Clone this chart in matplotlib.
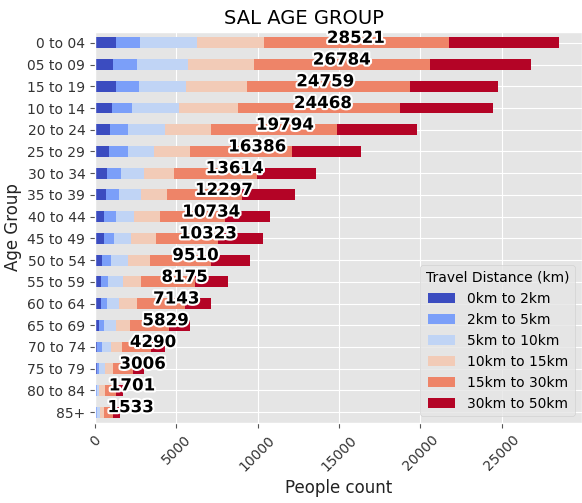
"""
SAL age group by travel distance - stacked horizontal bars
"""

import numpy as np
import matplotlib.pyplot as plt
import matplotlib.patheffects as pe

# data, ordered by total count (largest on top)
age_groups = ["0 to 04", "05 to 09", "15 to 19", "10 to 14", "20 to 24", "25 to 29",
              "30 to 34", "35 to 39", "40 to 44", "45 to 49", "50 to 54", "55 to 59",
              "60 to 64", "65 to 69", "70 to 74", "75 to 79", "80 to 84", "85+"]

bands = ["0km to 2km", "2km to 5km", "5km to 10km",
         "10km to 15km", "15km to 30km", "30km to 50km"]

km_0_2 = [1268, 1084, 1309, 1043, 920, 859, 716, 654, 552, 532, 429, 368,
          348, 266, 143, 102, 41, 41]
km_2_5 = [1493, 1493, 1390, 1206, 1105, 1186, 879, 818, 716, 613, 553, 409,
          368, 286, 266, 164, 102, 61]
km_5_10 = [3537, 3169, 2925, 2925, 2290, 1554, 1432, 1350, 1145, 1043, 1043, 920,
           777, 736, 573, 368, 123, 205]
km_10_15 = [4070, 4009, 3701, 3599, 2802, 2229, 1820, 1595, 1554, 1554, 1329, 1125,
            1084, 859, 654, 491, 348, 245]
km_15_30 = [11412, 10858, 10021, 9959, 7791, 6257, 5112, 4642, 4049, 3824, 3763, 3313,
            2944, 2413, 1779, 1227, 674, 573]
km_30_50 = [6741, 6171, 5413, 5736, 4886, 4301, 3655, 3238, 2718, 2757, 2393, 2040,
            1622, 1269, 875, 654, 413, 408]

series = [km_0_2, km_2_5, km_5_10, km_10_15, km_15_30, km_30_50]

plt.style.use("ggplot")

fig = plt.figure(figsize=(5.82, 5.03), dpi=100)
ax = fig.add_axes([95 / 582, 80 / 503, 487 / 582, 391 / 503])

cmap = plt.get_cmap("coolwarm")
colors = [cmap(i / (len(bands) - 1)) for i in range(len(bands))]

y = np.arange(len(age_groups))
left = np.zeros(len(age_groups))
for vals, name, col in zip(series, bands, colors):
    vals = np.array(vals, dtype=float)
    ax.barh(y, vals, left=left, height=0.5, color=col, label=name, linewidth=0)
    left += vals

totals = left
for i, tot in enumerate(totals):
    ax.text(tot / 2, i, f"{int(tot)}", ha="left", va="baseline",
            fontsize=12, fontweight="bold", color="black",
            path_effects=[pe.withStroke(linewidth=3, foreground="white")])

ax.set_yticks(y)
ax.set_yticklabels(age_groups, fontsize=10, color="#333333")
ax.set_ylim(len(age_groups) - 0.5, -0.5)
ax.set_xlim(0, totals.max() * 1.05)
ax.set_xticks([0, 5000, 10000, 15000, 20000, 25000])
plt.setp(ax.get_xticklabels(), rotation=45, fontsize=10, color="#333333")

ax.set_xlabel("People count", fontsize=12, color="#222222")
ax.set_ylabel("Age Group", fontsize=12, color="#222222")
ax.set_title("SAL AGE GROUP", fontsize=14, x=0.429)

ax.legend(title="Travel Distance (km)", loc="lower right", fontsize=10,
          title_fontsize=10)

plt.savefig("out.png", dpi=100)
plt.close()
